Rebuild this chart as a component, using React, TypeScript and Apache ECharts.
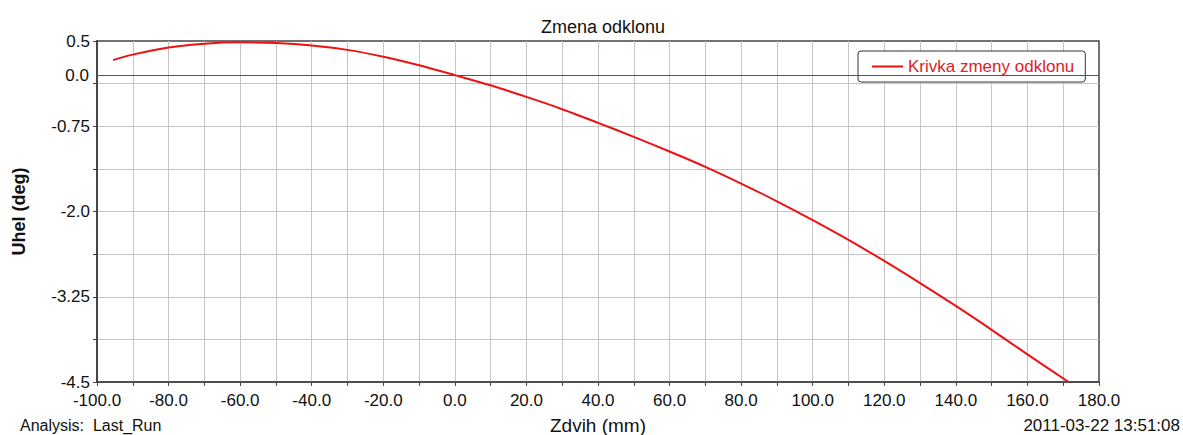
import React, { useEffect, useRef } from "react";
import * as echarts from "echarts";

const chartTitle = "Zmena odklonu";
const seriesName = "Krivka zmeny odklonu";
const xAxisName = "Zdvih (mm)";
const yAxisName = "Uhel (deg)";
const footerLeft = "Analysis:  Last_Run";
const footerRight = "2011-03-22 13:51:08";

// Zdvih (mm)
const strokeValues = [
  -95.5, -90, -80, -70, -60, -50, -40, -30, -20, -10, 0, 10, 20, 30, 40, 50, 60,
  70, 80, 90, 100, 110, 120, 130, 140, 150, 160, 171.5,
];
// Uhel (deg)
const angleValues = [
  0.22, 0.3, 0.405, 0.46, 0.48, 0.47, 0.435, 0.37, 0.27, 0.145, 0.0, -0.15,
  -0.32, -0.5, -0.7, -0.905, -1.12, -1.345, -1.59, -1.85, -2.125, -2.415,
  -2.725, -3.05, -3.385, -3.735, -4.095, -4.5,
];

const yLabelTicks = [0.5, -0.75, -2.0, -3.25, -4.5];

const FONT = "'Liberation Sans', Arial, sans-serif";

export default function App() {
  const ref = useRef<HTMLDivElement>(null);

  useEffect(() => {
    if (!ref.current) return;
    const chart = echarts.init(ref.current, null, { renderer: "svg" });
    const data = strokeValues.map((x, i) => [x, angleValues[i]]);

    chart.setOption({
      animation: false,
      backgroundColor: "#ffffff",
      textStyle: { fontFamily: FONT },
      title: {
        text: chartTitle,
        left: 598,
        top: 13,
        textAlign: "center",
        textStyle: { fontSize: 18, fontWeight: "normal", color: "#111", fontFamily: FONT },
      },
      legend: {
        data: [seriesName],
        left: 858,
        top: 51,
        icon: "rect",
        itemWidth: 31,
        itemHeight: 2,
        padding: [7, 11, 7, 14],
        borderColor: "#333",
        borderWidth: 1,
        borderRadius: 3,
        backgroundColor: "#ffffff",
        textStyle: { color: "#e0202a", fontSize: 17, fontFamily: FONT },
      },
      grid: {
        left: 97,
        right: 84,
        top: 41,
        bottom: 53,
        outerBoundsMode: "none",
        containLabel: false,
        show: true,
        borderColor: "#444",
        borderWidth: 1.5,
        backgroundColor: "transparent",
      },
      xAxis: {
        type: "value",
        min: -100,
        max: 180,
        interval: 10,
        name: xAxisName,
        nameLocation: "middle",
        nameGap: 34,
        nameTextStyle: { fontSize: 19, color: "#111", fontFamily: FONT },
        axisLine: { show: true, onZero: false, lineStyle: { color: "#444", width: 1.5 } },
        axisTick: { show: true, length: 4, lineStyle: { color: "#444" } },
        axisLabel: {
          margin: 10,
          fontSize: 17,
          color: "#111",
          fontFamily: FONT,
          formatter: (v: number) => (v % 20 === 0 ? v.toFixed(1) : ""),
        },
        splitLine: {
          show: true,
          showMinLine: false,
          showMaxLine: false,
          lineStyle: { color: "#c4c4c4", width: 1 },
        },
      },
      yAxis: {
        type: "value",
        min: -4.5,
        max: 0.5,
        interval: 0.625,
        name: yAxisName,
        nameLocation: "middle",
        nameRotate: 90,
        nameGap: 69,
        nameTextStyle: { fontSize: 18, fontWeight: "bold", color: "#111", fontFamily: FONT },
        axisLine: { show: true, onZero: false, lineStyle: { color: "#444", width: 2 } },
        axisTick: { show: true, length: 4, lineStyle: { color: "#444" } },
        axisLabel: {
          margin: 7,
          fontSize: 17,
          color: "#111",
          fontFamily: FONT,
          formatter: (v: number) => {
            if (!yLabelTicks.some((t) => Math.abs(t - v) < 1e-9)) return "";
            return Math.abs(v * 10 - Math.round(v * 10)) < 1e-9 ? v.toFixed(1) : v.toFixed(2);
          },
        },
        splitLine: {
          show: true,
          showMinLine: false,
          showMaxLine: false,
          lineStyle: { color: "#c4c4c4", width: 1 },
        },
      },
      series: [
        {
          name: seriesName,
          type: "line",
          data,
          symbol: "none",
          smooth: 0.3,
          lineStyle: { color: "#ee1111", width: 2 },
          itemStyle: { color: "#ee1111" },
          markLine: {
            silent: true,
            symbol: "none",
            data: [{ yAxis: 0 }],
            lineStyle: { color: "#555", type: "solid", width: 1 },
            label: {
              position: "start",
              formatter: "0.0",
              fontSize: 17,
              color: "#111",
              fontFamily: FONT,
              distance: 8,
            },
          },
        },
      ],
      graphic: [
        {
          type: "text",
          left: 20,
          top: 417,
          style: { text: footerLeft, fontSize: 16, fill: "#111", fontFamily: FONT },
        },
        {
          type: "text",
          right: 3,
          top: 417,
          style: { text: footerRight, fontSize: 17, fill: "#111", fontFamily: FONT },
        },
      ],
    });

    return () => chart.dispose();
  }, []);

  return (
    <div
      ref={ref}
      style={{ position: "fixed", left: 0, top: 0, width: 1183, height: 435 }}
    />
  );
}
